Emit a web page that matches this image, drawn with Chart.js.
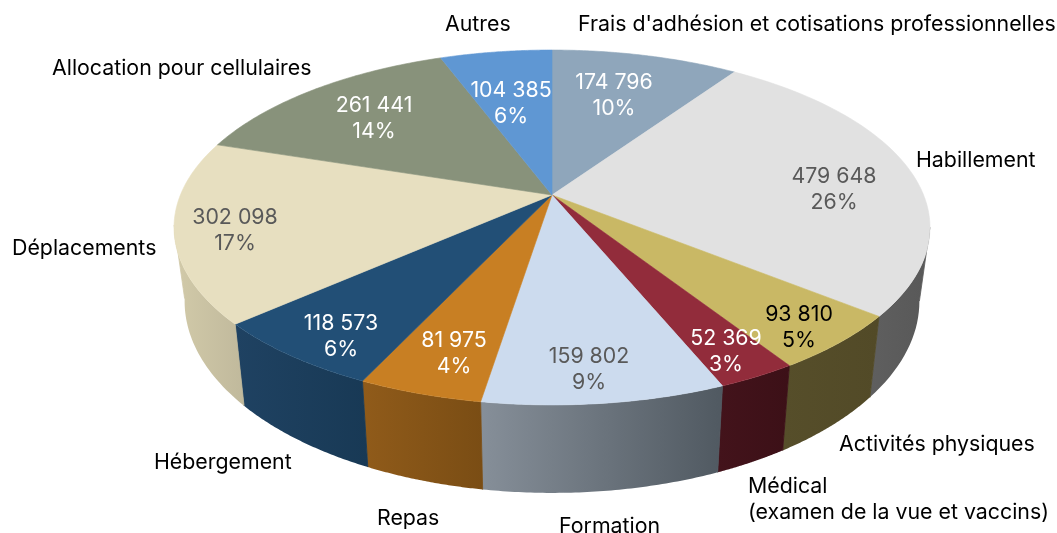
<!DOCTYPE html>
<html lang="fr">
<head>
<meta charset="utf-8">
<title>Dépenses</title>
<style>
  html, body { margin: 0; padding: 0; background: #fff; }
  #wrap { width: 1057px; height: 533px; }
</style>
</head>
<body>
<div id="wrap"><canvas id="pie" width="1057" height="533"></canvas></div>
<script src="https://cdn.jsdelivr.net/npm/chart.js@4/dist/chart.umd.min.js"></script>
<script>
/* data */
const categories = ["Frais d'adhésion et cotisations professionnelles", 'Habillement', 'Activités physiques',
  ['Médical', '(examen de la vue et vaccins)'], 'Formation', 'Repas', 'Hébergement', 'Déplacements',
  'Allocation pour cellulaires', 'Autres'];
const values = [174796, 479648, 93810, 52369, 159802, 81975, 118573, 302098, 261441, 104385];
const percents = [10, 26, 5, 3, 9, 4, 6, 17, 14, 6];

/* styles */
const topColors = ['#8fa6bb', '#e1e1e1', '#c9b865', '#922c3b', '#ccdbee', '#c87f23', '#224f76', '#e7dfc0', '#88927b', '#5f97d3'];
const wallLeft = ['#6f8192', '#6f6f6f', '#564e2a', '#43131b', '#868f99', '#905b1a', '#1f4262', '#d2caa9', '#6a7260', '#4a76a4'];
const wallRight = ['#5f6f7e', '#585858', '#524a27', '#3c1017', '#505961', '#7a4d14', '#183955', '#c0b99c', '#5c6353', '#40668e'];
const valueColors = ['#fff', '#595959', '#000', '#fff', '#595959', '#fff', '#fff', '#595959', '#fff', '#fff'];
const fontSpec = '21.33px Inter, "Noto Sans", sans-serif';

/* label anchors: [centre x, first line y] / [left x, first line y] */
const valueAnchors = [[614, 83], [834, 177], [799, 315], [726, 339], [589, 357], [454, 341], [341, 324], [235, 218], [374, 106], [511, 91]];
const nameAnchors = [[578, 25], [916, 161], [839, 445], [748, 487], [559, 527], [377, 519], [154, 463], [12, 249], [52, 69], [445, 25]];
const lineGap = 26;

/* projection of the tilted disc, fitted on the picture */
const cx = 552, cy = 195;
const radiusX = 371.6, radiusY = 171.5, persp = 0.183;
const wallShrink = 0.972, wallStretch = 1.08, wallDrop = 55.6;
const wallFromY = 225; // rim above this is hidden behind the top face

function topPoint(angle) {
  // chart.js angle: -PI/2 is twelve o'clock
  const u = Math.cos(angle), v = -Math.sin(angle);
  const w = 1 + persp * v;
  return { x: cx + radiusX * u / w, y: cy - radiusY * v / w };
}

function bottomPoint(angle) {
  const p = topPoint(angle);
  return { x: cx + (p.x - cx) * wallShrink, y: p.y * wallStretch + wallDrop };
}

function rimPoints(arc, fn) {
  const pts = [];
  const steps = 60;
  for (let i = 0; i <= steps; i++) {
    pts.push(fn(arc.startAngle + (arc.endAngle - arc.startAngle) * i / steps));
  }
  return pts;
}

function fillPath(ctx, pts, fill) {
  ctx.beginPath();
  pts.forEach((p, i) => i ? ctx.lineTo(p.x, p.y) : ctx.moveTo(p.x, p.y));
  ctx.closePath();
  ctx.fillStyle = fill;
  ctx.strokeStyle = fill;
  ctx.lineWidth = 0.6;
  ctx.fill();
  ctx.stroke();
}

/* one wall: all quads in a single path, so no seams between the steps */
function fillWall(ctx, upper, lower, fill) {
  ctx.beginPath();
  let first = null, last = null;
  for (let s = 0; s < upper.length - 1; s++) {
    if (upper[s].y < wallFromY || upper[s + 1].y < wallFromY) continue;
    ctx.moveTo(upper[s].x, upper[s].y);
    ctx.lineTo(upper[s + 1].x, upper[s + 1].y);
    ctx.lineTo(lower[s + 1].x, lower[s + 1].y);
    ctx.lineTo(lower[s].x, lower[s].y);
    ctx.closePath();
    if (first === null) first = s;
    last = s + 1;
  }
  ctx.fillStyle = fill;
  ctx.fill();
  if (first === null) return;
  // side edges only, closes the hairline between two slices
  ctx.beginPath();
  ctx.moveTo(upper[first].x, upper[first].y);
  ctx.lineTo(lower[first].x, lower[first].y);
  ctx.moveTo(upper[last].x, upper[last].y);
  ctx.lineTo(lower[last].x, lower[last].y);
  ctx.strokeStyle = fill;
  ctx.lineWidth = 0.8;
  ctx.stroke();
}

const pie3d = {
  id: 'pie3d',
  // replaces the flat arcs, angles still come from the arc elements
  beforeDatasetsDraw(chart) {
    const ctx = chart.ctx;
    const arcs = chart.getDatasetMeta(0).data;
    ctx.save();

    // walls
    arcs.forEach((arc, i) => {
      const upper = rimPoints(arc, topPoint);
      const lower = rimPoints(arc, bottomPoint);
      const xs = upper.concat(lower).map(p => p.x);
      const grad = ctx.createLinearGradient(Math.min(...xs), 0, Math.max(...xs), 0);
      grad.addColorStop(0, wallLeft[i]);
      grad.addColorStop(1, wallRight[i]);
      fillWall(ctx, upper, lower, grad);
    });

    // top faces
    arcs.forEach((arc, i) => {
      fillPath(ctx, [{ x: cx, y: cy }].concat(rimPoints(arc, topPoint)), topColors[i]);
    });

    // labels
    ctx.font = fontSpec;
    ctx.textBaseline = 'middle';
    values.forEach((val, i) => {
      const a = valueAnchors[i];
      ctx.textAlign = 'center';
      ctx.fillStyle = valueColors[i];
      ctx.fillText(String(val).replace(/\B(?=(\d{3})+$)/g, ' '), a[0], a[1]);
      ctx.fillText(percents[i] + '%', a[0], a[1] + lineGap);
    });
    categories.forEach((name, i) => {
      const a = nameAnchors[i];
      ctx.textAlign = 'left';
      ctx.fillStyle = '#000';
      [].concat(name).forEach((line, k) => ctx.fillText(line, a[0], a[1] + k * lineGap));
    });

    ctx.restore();
    return false;
  }
};

new Chart(document.getElementById('pie'), {
  type: 'pie',
  data: {
    labels: categories,
    datasets: [{ data: values, backgroundColor: topColors, borderWidth: 0 }]
  },
  options: {
    responsive: false,
    animation: false,
    events: [],
    plugins: { legend: { display: false }, tooltip: { enabled: false } }
  },
  plugins: [pie3d]
});
</script>
</body>
</html>
